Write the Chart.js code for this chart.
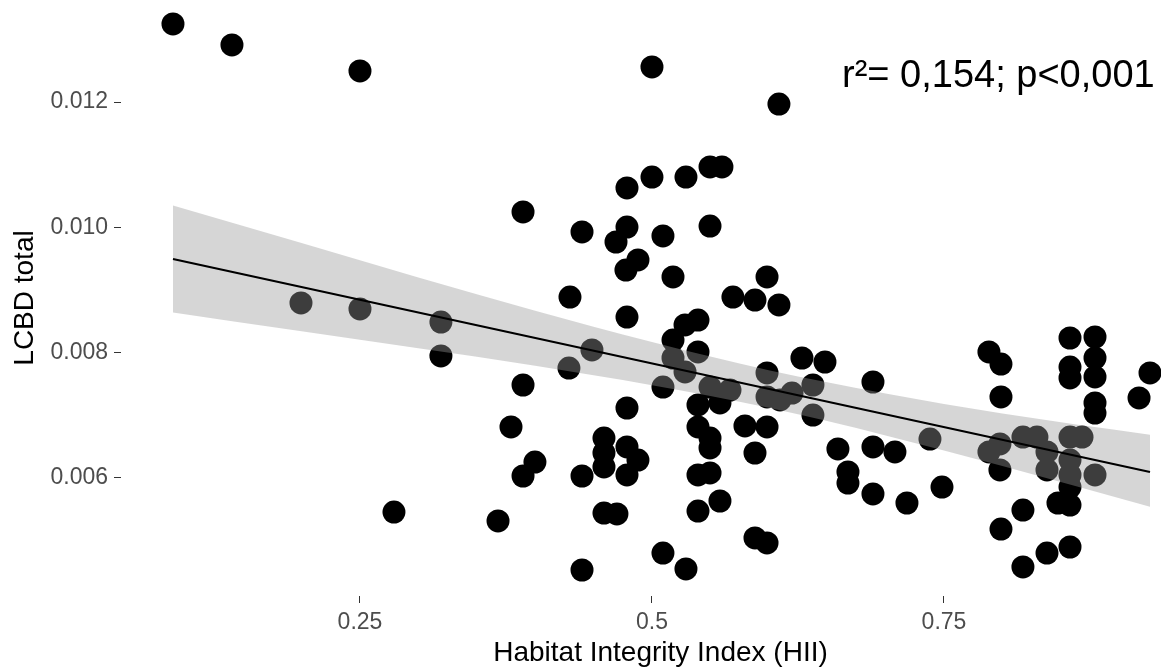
<!DOCTYPE html>
<html>
<head>
<meta charset="utf-8">
<script src="https://cdn.jsdelivr.net/npm/chart.js@4"></script>
<style>
  html, body { margin: 0; padding: 0; background: #fff; overflow: hidden; }
  canvas { display: block; }
</style>
</head>
<body>
<canvas id="lcbdChart" width="1200" height="672"></canvas>
<script>
// one value per site
const hii = [
  0.0899, 0.1404, 0.25, 0.1995, 0.25, 0.2791, 0.5, 0.3896, 0.4786, 0.5,
  0.4401, 0.4786, 0.4692, 0.488, 0.4777, 0.4298, 0.6087, 0.5291, 0.5497, 0.5599,
  0.5094, 0.5497, 0.518, 0.5985, 0.5693, 0.5882, 0.6087, 0.4786, 0.3193, 0.3193,
  0.4486, 0.4289, 0.3896, 0.4786, 0.3793, 0.4589, 0.4589, 0.4589, 0.4786, 0.488,
  0.4786, 0.4401, 0.3998, 0.3896, 0.3682, 0.4589, 0.47, 0.4401, 0.5394, 0.5283,
  0.518, 0.5394, 0.518, 0.5283, 0.5094, 0.5497, 0.5668, 0.5394, 0.5582, 0.5985,
  0.5985, 0.6096, 0.6199, 0.6284, 0.6481, 0.6378, 0.6378, 0.6892, 0.5394, 0.5497,
  0.5497, 0.5796, 0.5985, 0.5882, 0.6592, 0.6892, 0.708, 0.6678, 0.6678, 0.6892,
  0.7183, 0.5394, 0.5497, 0.5582, 0.5394, 0.5882, 0.5985, 0.5094, 0.5291, 0.738,
  0.7483, 0.7885, 0.7988, 0.7988, 0.7885, 0.7979, 0.7979, 0.8176, 0.8296, 0.8382,
  0.8382, 0.8579, 0.8682, 0.8579, 0.8579, 0.8793, 0.8579, 0.8793, 0.8579, 0.8579,
  0.8793, 0.8793, 0.8793, 0.8793, 0.9264, 0.917, 0.8476, 0.8579, 0.8579, 0.8176,
  0.7988, 0.8382, 0.8579, 0.8176
];
const lcbd = [
  0.013245, 0.01291, 0.012495, 0.008793, 0.008697, 0.005457, 0.012559, 0.010245, 0.010628, 0.010803,
  0.009926, 0.010005, 0.009766, 0.009479, 0.009319, 0.008888, 0.011968, 0.010803, 0.010963, 0.010963,
  0.009862, 0.010021, 0.009208, 0.009208, 0.008888, 0.00884, 0.008761, 0.008569, 0.008489, 0.007947,
  0.008043, 0.007755, 0.007484, 0.007117, 0.006814, 0.006638, 0.006399, 0.006176, 0.006495, 0.006287,
  0.006048, 0.006032, 0.006255, 0.006032, 0.005314, 0.005441, 0.005426, 0.004532, 0.008521, 0.008442,
  0.008202, 0.008011, 0.007915, 0.007692, 0.007452, 0.007452, 0.007404, 0.007165, 0.007197, 0.007676,
  0.007293, 0.007245, 0.007356, 0.007915, 0.007851, 0.007484, 0.007005, 0.007532, 0.006814, 0.006638,
  0.006479, 0.00683, 0.006814, 0.006399, 0.006463, 0.006495, 0.006415, 0.006096, 0.00592, 0.005745,
  0.005601, 0.006048, 0.00608, 0.005633, 0.005473, 0.005043, 0.004963, 0.004803, 0.004548, 0.006622,
  0.005856, 0.008011, 0.007819, 0.007293, 0.006415, 0.006543, 0.006128, 0.006654, 0.006654, 0.006415,
  0.006128, 0.006654, 0.006654, 0.006287, 0.006048, 0.006048, 0.008234, 0.00825, 0.007771, 0.007596,
  0.007915, 0.007612, 0.007197, 0.007037, 0.007676, 0.007277, 0.005601, 0.005569, 0.005856, 0.005489,
  0.005186, 0.004803, 0.004899, 0.00458
];

// linear fit and its confidence band
const fitX = [0.0899, 0.9264];
const fitY = [0.009495, 0.006096];
const bandX = [0.0899, 0.2, 0.3, 0.4, 0.5, 0.6, 0.7, 0.8, 0.9264];
const bandUpper = [0.01035, 0.00975, 0.0092, 0.00867, 0.00817, 0.00772, 0.00735, 0.00703, 0.00669];
const bandLower = [0.00864, 0.00834, 0.00807, 0.00779, 0.00748, 0.00712, 0.00668, 0.00619, 0.00554];

const xTicks = [0.25, 0.5, 0.75];
const xTickLabels = ["0.25", "0.5", "0.75"];
const yTicks = [0.006, 0.008, 0.010, 0.012];
const yTickLabels = ["0.006", "0.008", "0.010", "0.012"];

const statsText = "r\u00b2= 0,154; p<0,001";
const statsX = 0.6627;
const statsY = 0.01224;

const toPts = (xs, ys) => xs.map((x, i) => ({ x: x, y: ys[i] }));

Chart.defaults.font.family = '"Liberation Sans", Arial, sans-serif';

// the r2 / p annotation in the top right corner
const statsLabel = {
  id: "statsLabel",
  afterDraw(chart) {
    const { ctx, scales } = chart;
    ctx.save();
    ctx.font = '38px "Liberation Sans", Arial, sans-serif';
    ctx.fillStyle = "#000";
    ctx.textAlign = "left";
    ctx.textBaseline = "alphabetic";
    ctx.fillText(statsText, scales.x.getPixelForValue(statsX), scales.y.getPixelForValue(statsY));
    ctx.restore();
  }
};

new Chart(document.getElementById("lcbdChart"), {
  type: "scatter",
  data: {
    datasets: [
      {
        type: "line",
        data: toPts(fitX, fitY),
        borderColor: "#000",
        borderWidth: 2.2,
        pointRadius: 0,
        fill: false,
        order: 0
      },
      {
        type: "line",
        data: toPts(bandX, bandUpper),
        borderColor: "transparent",
        borderWidth: 0,
        pointRadius: 0,
        cubicInterpolationMode: "monotone",
        backgroundColor: "rgba(153,153,153,0.4)",
        fill: "+1",
        order: 1
      },
      {
        type: "line",
        data: toPts(bandX, bandLower),
        borderColor: "transparent",
        borderWidth: 0,
        pointRadius: 0,
        cubicInterpolationMode: "monotone",
        fill: false,
        order: 1
      },
      {
        data: toPts(hii, lcbd),
        backgroundColor: "#000",
        borderWidth: 0,
        pointRadius: 11.5,
        pointHoverRadius: 11.5,
        clip: false,
        order: 2
      }
    ]
  },
  options: {
    responsive: false,
    animation: false,
    devicePixelRatio: 1,
    layout: { padding: 0, autoPadding: false },
    plugins: {
      legend: { display: false },
      tooltip: { enabled: false }
    },
    scales: {
      x: {
        type: "linear",
        min: 0.0454,
        max: 0.9692,
        afterFit(s) {
          s.height = 76;
          s.paddingLeft = 0;
          s.paddingRight = 0;
        },
        afterBuildTicks(s) { s.ticks = xTicks.map(v => ({ value: v })); },
        ticks: {
          callback: v => xTickLabels[xTicks.indexOf(v)],
          color: "#4d4d4d",
          font: { size: 23 },
          padding: 6,
          maxRotation: 0,
          autoSkip: false
        },
        grid: { drawOnChartArea: false, tickLength: 7, tickColor: "#333", tickWidth: 1 },
        border: { display: false },
        title: {
          display: true,
          text: "Habitat Integrity Index (HII)",
          color: "#000",
          font: { size: 28 },
          padding: { top: 0, bottom: 2 }
        }
      },
      y: {
        type: "linear",
        min: 0.004117,
        max: 0.0136277,
        afterFit(s) {
          s.width = 121;
          s.paddingTop = 0;
          s.paddingBottom = 0;
        },
        afterBuildTicks(s) { s.ticks = yTicks.map(v => ({ value: v })); },
        ticks: {
          callback: v => yTickLabels[yTicks.indexOf(v)],
          color: "#4d4d4d",
          font: { size: 23 },
          padding: 6,
          autoSkip: false
        },
        grid: { drawOnChartArea: false, tickLength: 7, tickColor: "#333", tickWidth: 1 },
        border: { display: false },
        title: {
          display: true,
          text: "LCBD total",
          color: "#000",
          font: { size: 28 },
          padding: { top: 8, bottom: 0 }
        }
      }
    }
  },
  plugins: [statsLabel]
});
</script>
</body>
</html>
